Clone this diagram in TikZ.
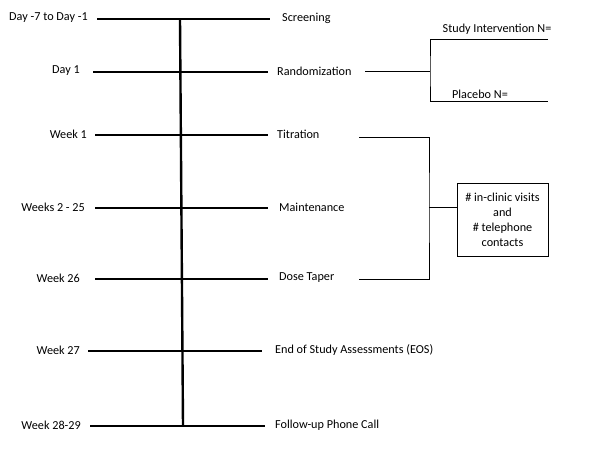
\documentclass[tikz,border=0pt]{standalone}
\usepackage{fontspec}
\setmainfont{Carlito}
\usetikzlibrary{positioning, calc}

\tikzset{
  lbl/.style={inner sep=0pt, font=\fontsize{12.2}{14}\selectfont},
  tline/.style={line width=2.4pt},
  bline/.style={line width=1pt}
}

\begin{document}
\begin{tikzpicture}[x=1pt, y=-1pt]
  \useasboundingbox (0,0) rectangle (600,460);

  % Timeline rows
  \foreach \n/\y/\a/\b/\lx/\rx/\lt/\rt in {
      scr/19/97/270/88/282/{Day -7 to Day -1}/{Screening},
      rnd/72/93/268/80/277/{Day 1}/{Randomization},
      tit/135/95/268/87/277/{Week 1}/{Titration},
      mnt/208/95/268/85/279/{Weeks 2 - 25}/{Maintenance},
      dos/279/95/268/80/279/{Week 26}/{Dose Taper},
      eos/351/88/262/80/275/{Week 27}/{End of Study Assessments (EOS)},
      fup/426/90/265/81/275/{Week 28-29}/{Follow-up Phone Call}}
  {
    \node[lbl, anchor=east] (\n-l) at (\lx,\y-1) {\lt};
    \node[lbl, anchor=west] (\n-r) at (\rx,\y-1) {\rt};
    \coordinate (\n-a) at (\a,\y);
    \coordinate (\n-b) at (\b,\y);
    \draw[tline] (\n-a) -- (\n-b);
  }

  % Spine
  \coordinate (top) at (180,19);
  \coordinate (bot) at (183,426);
  \draw[tline] (top) -- (bot);

  % Randomization arms
  \coordinate (rnd-c) at (365,72);
  \coordinate (rnd-j) at (430,72);
  \coordinate (si-e) at (548,40);
  \coordinate (pl-e) at (548,101);
  \node[lbl] (si) at (497,29) {Study Intervention N=};
  \node[lbl] (pl) at (480,94) {Placebo N=};
  \draw[bline] (rnd-c) -- (rnd-j);
  \draw[bline] (si-e) -| (rnd-j) |- (pl-e);

  % Visits box
  \coordinate (tit-c) at (359,137);
  \coordinate (dos-c) at (359,279);
  \coordinate (vis-j) at (429,207);
  \node[draw, line width=0.8pt, minimum width=91pt, minimum height=73pt,
        align=center, font=\fontsize{12.2}{15}\selectfont, inner sep=0pt]
        (visits) at (502.5,219.5) {\# in-clinic visits\\and\\\# telephone\\contacts};
  \draw[bline] (tit-c) -| (vis-j) |- (dos-c);
  \draw[bline] (vis-j) -- (vis-j -| visits.west);
\end{tikzpicture}
\end{document}
